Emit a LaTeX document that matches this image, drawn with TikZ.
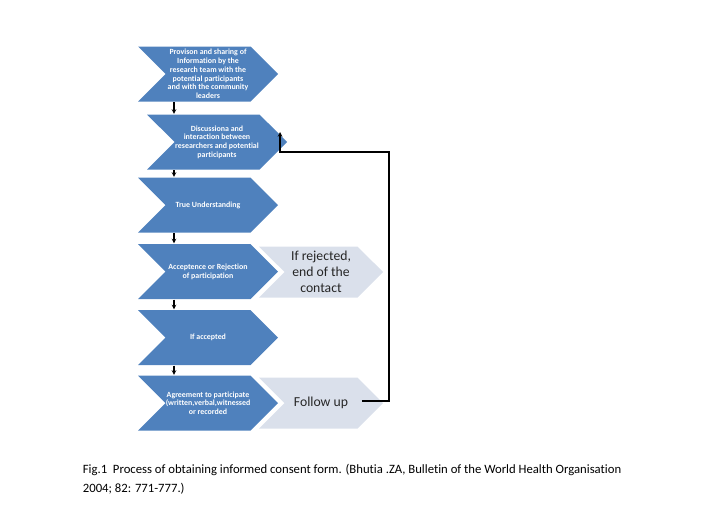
\documentclass[tikz,border=0pt]{standalone}
\usepackage{fontspec}
\setmainfont[Ligatures=NoCommon]{Carlito}
\usetikzlibrary{shapes.symbols,arrows}
\definecolor{stepblue}{HTML}{4F81BD}
\definecolor{sidegray}{HTML}{DAE0EB}

\begin{document}
\begin{tikzpicture}[x=1pt,y=-1pt,>=stealth,line width=1.1pt,
  chevron/.style={signal,signal from=west,signal to=east,signal pointer angle=90,
    inner sep=0pt,align=center,minimum width=140pt,minimum height=55pt},
  stepbox/.style={chevron,fill=stepblue,text=white,font=\fontsize{7.9}{8.7}\selectfont\bfseries},
  sidebox/.style={chevron,fill=sidegray,text=black!85,minimum width=124pt,minimum height=51pt,
    font=\fontsize{13.7}{15.8}\selectfont}]
\useasboundingbox (0,0) rectangle (712,525);

\node[stepbox] (prov) at (208,74) {Provison and sharing of\\Information by the\\research team with the\\potential participants\\and with the community\\leaders};
\node[stepbox] (disc) at (217,142) {Discussiona and\\interaction between\\researchers and potential\\participants};
\node[stepbox] (true) at (208,205) {True Understanding};
\node[stepbox] (acc)  at (208,271.5) {Acceptence or Rejection\\of participation};
\node[stepbox] (ifacc) at (208,337.5) {If accepted};
\node[stepbox] (agree) at (208,403) {Agreement to participate\\(written,verbal,witnessed\\or recorded};

\node[sidebox] (rej) at (321,272) {If rejected,\\end of the\\contact};
\node[sidebox] (follow) at (321,403) {Follow up};

\coordinate (ax) at (174,0);
\coordinate (loop) at (389,152);
\coordinate (back) at (280,132);

\path[->] (prov.south -| ax) edge (disc.north -| ax)
          (disc.south -| ax) edge (true.north -| ax)
          (true.south -| ax) edge (acc.north -| ax)
          (acc.south -| ax)  edge (ifacc.north -| ax)
          (ifacc.south -| ax) edge (agree.north -| ax);

\draw[->] ([xshift=-22pt,yshift=2pt]follow.east) -| (loop) -| (back);

\node[anchor=north west,align=left,font=\fontsize{12.7}{19}\selectfont] (cap) at (79,460)
  {Fig.1\ \ Process of obtaining informed consent form. (Bhutia .ZA, Bulletin of the World Health Organisation\\2004; 82: 771-777.)};

\end{tikzpicture}
\end{document}
